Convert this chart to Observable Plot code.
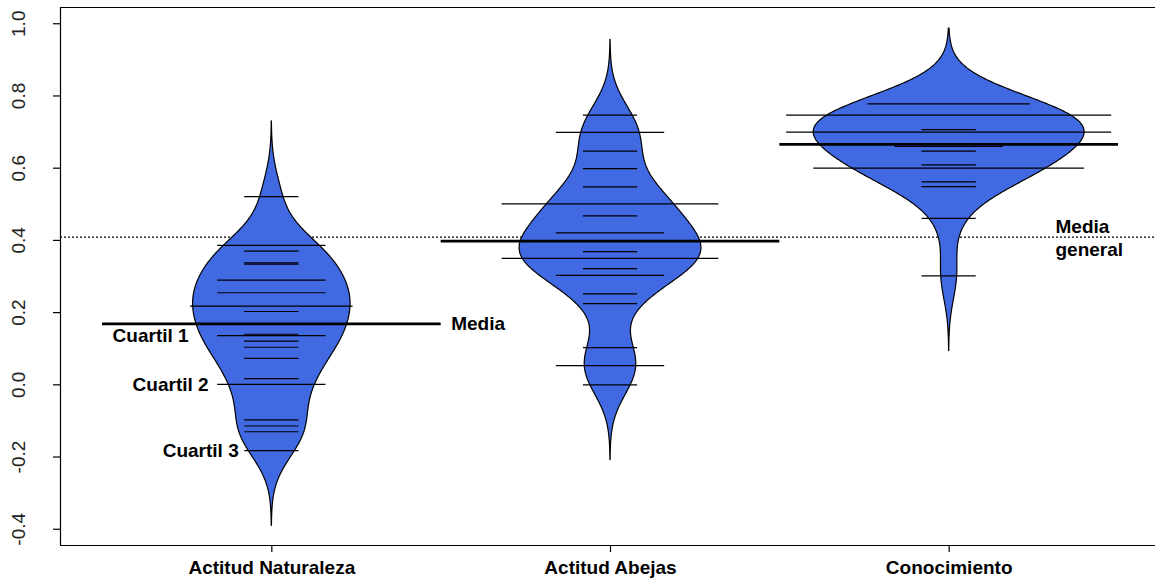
<!DOCTYPE html>
<html>
<head>
<meta charset="utf-8">
<script src="https://cdn.jsdelivr.net/npm/d3@7"></script>
<script src="https://cdn.jsdelivr.net/npm/@observablehq/plot@0.6"></script>
<style>
  body { margin: 0; background: #fff; }
  #chart svg { display: block; }
</style>
</head>
<body>
<div id="chart"></div>
<script>
// ---- data ----
const categories = ["Actitud Naturaleza", "Actitud Abejas", "Conocimiento"];

const naturalezaValues = [0.521, 0.386, 0.386, 0.370, 0.338, 0.334, 0.290, 0.290, 0.255, 0.255,
  0.218, 0.218, 0.218, 0.203, 0.140, 0.136, 0.136, 0.121, 0.104, 0.073, 0.017, 0.001, 0.001,
  -0.097, -0.114, -0.130, -0.182];

const abejasValues = [0.747, 0.699, 0.699, 0.647, 0.599, 0.548, 0.501, 0.501, 0.501, 0.501,
  0.468, 0.421, 0.421, 0.397, 0.397, 0.397, 0.369, 0.350, 0.350, 0.350, 0.350, 0.322,
  0.303, 0.303, 0.252, 0.225, 0.103, 0.053, 0.053, 0.000];

const conocimientoValues = [0.778, 0.778, 0.778, 0.747, 0.747, 0.747, 0.747, 0.747, 0.747,
  0.707, 0.700, 0.700, 0.700, 0.700, 0.700, 0.700, 0.660, 0.660, 0.647, 0.609,
  0.600, 0.600, 0.600, 0.600, 0.600, 0.562, 0.549, 0.461, 0.302];

const groupMeans = [0.169, 0.398, 0.666];
const overallMean = 0.409;
const yTicks = [-0.4, -0.2, 0.0, 0.2, 0.4, 0.6, 0.8, 1.0];

const quartileLabels = ["Cuartil 1", "Cuartil 2", "Cuartil 3"];
const quartileValues = [0.136, 0.001, -0.182];

// ---- derived tables ----
const groups = [naturalezaValues, abejasValues, conocimientoValues];
const bw = 0.0695;        // kernel bandwidth (beanplot: common bandwidth, cut = 3*bw)
const maxHalf = 0.4;      // half of maxwidth 0.8
const lineHalf = 0.08;    // half of beanline length per observation
const xDomain = [0.376, 3.624];
const yDomain = [-0.445, 1.045];

function kde(vals) {
  const lo = d3.min(vals) - 3 * bw, hi = d3.max(vals) + 3 * bw;
  const N = 300;
  return d3.range(N + 1).map(i => {
    const y = lo + (hi - lo) * i / N;
    const d = d3.sum(vals, v => Math.exp(-0.5 * ((y - v) / bw) ** 2)) / (vals.length * bw * Math.sqrt(2 * Math.PI));
    return {y, d};
  });
}
const dens = groups.map(kde);
const maxD = d3.max(dens.flat(), p => p.d);
const beanRows = dens.flatMap((arr, gi) => arr.map(p => ({
  cat: categories[gi], pos: gi + 1, y: p.y, h: p.d / maxD * maxHalf
})));

const lineRows = groups.flatMap((vals, gi) =>
  d3.rollups(vals, v => v.length, v => v).map(([value, count]) => ({pos: gi + 1, value, count})));

const meanRows = groupMeans.map((m, gi) => ({pos: gi + 1, value: m}));
const quartRows = quartileLabels.map((t, i) => ({text: t, value: quartileValues[i],
  count: lineRows.find(r => r.pos === 1 && Math.abs(r.value - quartileValues[i]) < 1e-9)?.count ?? 1}));

const annot = {fontWeight: "bold", fontSize: 19, lineAnchor: "middle"};
const quartMark = (i, dx) => Plot.text([quartRows[i]], {x: d => 1 - d.count * lineHalf, y: "value", text: "text",
  dx, textAnchor: "end", ...annot});

const chart = Plot.plot({
  width: 1155,
  height: 582,
  marginLeft: 60,
  marginRight: -5,
  marginTop: 7,
  marginBottom: 37,
  style: {fontFamily: "'Liberation Sans', Arial, sans-serif", fontSize: "18px", color: "black", background: "white"},
  x: {domain: xDomain, axis: null},
  y: {domain: yDomain, axis: null},
  marks: [
    // overall mean (dotted)
    Plot.ruleY([overallMean], {stroke: "black", strokeWidth: 1.1, strokeDasharray: "2,2"}),
    // beans
    Plot.areaX(beanRows, {y: "y", x1: d => d.pos - d.h, x2: d => d.pos + d.h, z: "cat",
      fill: "#4169E1", stroke: "black", strokeWidth: 1.2}),
    // bean lines (one per observed value, longer for repeated values)
    Plot.ruleY(lineRows, {y: "value", x1: d => d.pos - d.count * lineHalf, x2: d => d.pos + d.count * lineHalf,
      stroke: "black", strokeWidth: 1.2}),
    // group means
    Plot.ruleY(meanRows, {y: "value", x1: d => d.pos - 0.5, x2: d => d.pos + 0.5, stroke: "black", strokeWidth: 2.8}),
    // plot box (left, top, bottom)
    Plot.ruleX([xDomain[0]], {stroke: "black", strokeWidth: 1.2}),
    Plot.ruleY(yDomain, {stroke: "black", strokeWidth: 1.2}),
    // axes
    Plot.axisY({ticks: yTicks, tickSize: 7, tickFormat: () => "", strokeWidth: 1.2}),
    Plot.text(yTicks, {y: d => d, frameAnchor: "left", dx: -42, rotate: -90, text: d => d.toFixed(1),
      textAnchor: "middle", lineAnchor: "middle", fontSize: 19, fill: "#222"}),
    Plot.axisX({ticks: [1, 2, 3], tickSize: 7, tickPadding: 8, tickFormat: i => categories[i - 1],
      fontSize: 19, fontWeight: "bold", strokeWidth: 1.2}),
    // annotations
    Plot.text(meanRows.slice(0, 1), {x: d => d.pos + 0.5, y: "value", text: () => "Media", dx: 10,
      textAnchor: "start", ...annot}),
    quartMark(0, -29),
    quartMark(1, -9),
    quartMark(2, -6),
    Plot.text([overallMean], {y: d => d, frameAnchor: "right", dx: -105, text: () => "Media\ngeneral",
      textAnchor: "start", lineHeight: 1.2, ...annot})
  ]
});
document.getElementById("chart").appendChild(chart);
</script>
</body>
</html>
